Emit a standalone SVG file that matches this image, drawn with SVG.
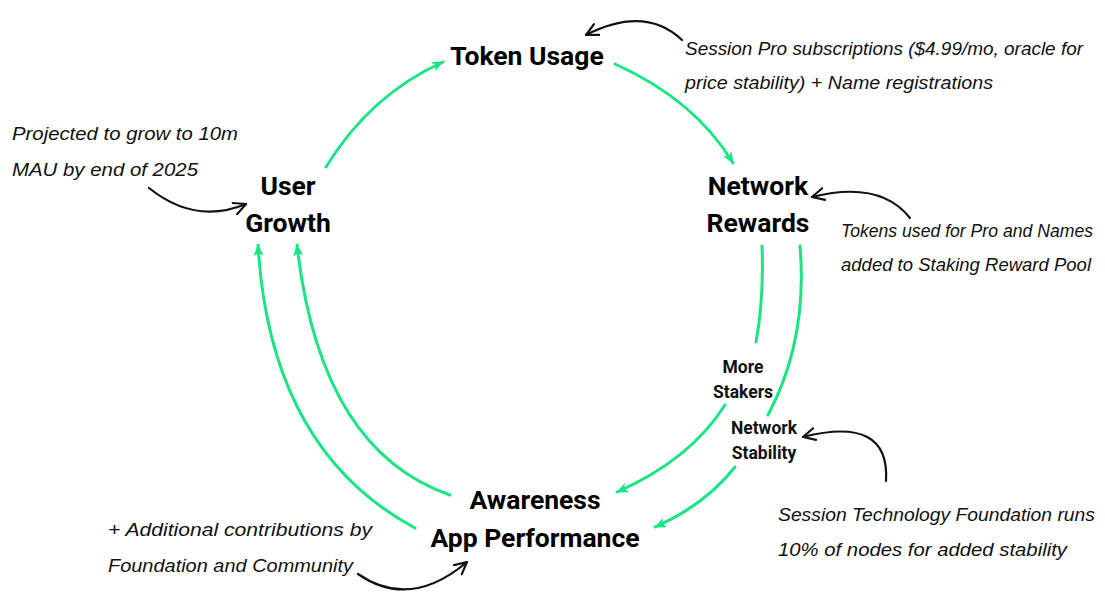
<svg xmlns="http://www.w3.org/2000/svg" width="1105" height="592" viewBox="0 0 1105 592">
<defs>
<style>
.node{font-family:Roboto,"Liberation Sans",sans-serif;font-weight:700;font-size:26.5px;fill:#000;text-anchor:middle}
.lbl{font-family:Roboto,"Liberation Sans",sans-serif;font-weight:700;font-size:17.5px;fill:#111;text-anchor:middle}
.note{font-family:"Liberation Sans",sans-serif;font-style:italic;font-size:19px;fill:#111}
.g{fill:none;stroke:#19e584;stroke-width:3;stroke-linecap:round}
.k{fill:none;stroke:#111;stroke-width:2.2;stroke-linecap:round}
</style>
<marker id="ga" viewBox="0 0 12 10" refX="11" refY="5" markerWidth="12" markerHeight="10" markerUnits="userSpaceOnUse" orient="auto">
<path d="M0,0 L12,5 L0,10 L3,5 Z" fill="#19e584"/>
</marker>
<marker id="ka" viewBox="0 0 14 14" refX="13" refY="7" markerWidth="14" markerHeight="14" markerUnits="userSpaceOnUse" orient="auto">
<path d="M1,1 L13,7 L1,13" fill="none" stroke="#111" stroke-width="2.2" stroke-linecap="round" stroke-linejoin="round"/>
</marker>
</defs>
<rect width="1105" height="592" fill="#fff"/>
<g id="connectors">
<path class="g" d="M326,167 Q370,95 443,62" marker-end="url(#ga)"/>
<path class="g" d="M615,64 Q695,100 733,163" marker-end="url(#ga)"/>
<path class="g" d="M762,246 Q764,300 756,342"/>
<path class="g" d="M725,405 Q690,460 617,492" marker-end="url(#ga)"/>
<path class="g" d="M800,246 Q808,340 768,415"/>
<path class="g" d="M735,467 Q705,505 655,527" marker-end="url(#ga)"/>
<path class="g" d="M450,495 Q320,450 297,245" marker-end="url(#ga)"/>
<path class="g" d="M415,528 Q270,450 258,245" marker-end="url(#ga)"/>
<path class="k" d="M682,40 Q645,5 586,35" marker-end="url(#ka)"/>
<path class="k" d="M149,188 Q195,225 246,204" marker-end="url(#ka)"/>
<path class="k" d="M910,218 Q880,180 812,197" marker-end="url(#ka)"/>
<path class="k" d="M886,481 Q890,415 803,437" marker-end="url(#ka)"/>
<path class="k" d="M358,574 Q410,610 467,562" marker-end="url(#ka)"/>
</g>
<g id="token-usage"><text class="node" x="527" y="65">Token Usage</text></g>
<g id="user-growth"><text class="node" x="288" y="195">User</text><text class="node" x="288" y="232">Growth</text></g>
<g id="network-rewards"><text class="node" x="758" y="195">Network</text><text class="node" x="758" y="232">Rewards</text></g>
<g id="awareness"><text class="node" x="535" y="509">Awareness</text><text class="node" x="535" y="547">App Performance</text></g>
<g id="more-stakers"><text class="lbl" x="743" y="373">More</text><text class="lbl" x="743" y="398">Stakers</text></g>
<g id="network-stability"><text class="lbl" x="764" y="434">Network</text><text class="lbl" x="764" y="459">Stability</text></g>
<g id="notes">
<text class="note" x="685" y="55" textLength="398" lengthAdjust="spacingAndGlyphs">Session Pro subscriptions ($4.99/mo, oracle for</text>
<text class="note" x="685" y="89" textLength="308" lengthAdjust="spacingAndGlyphs">price stability) + Name registrations</text>
<text class="note" x="12" y="140" textLength="226" lengthAdjust="spacingAndGlyphs">Projected to grow to 10m</text>
<text class="note" x="12" y="176" textLength="186" lengthAdjust="spacingAndGlyphs">MAU by end of 2025</text>
<text class="note" x="841" y="237" style="font-size:17.5px" textLength="252" lengthAdjust="spacingAndGlyphs">Tokens used for Pro and Names</text>
<text class="note" x="841" y="271" textLength="250" lengthAdjust="spacingAndGlyphs">added to Staking Reward Pool</text>
<text class="note" x="108" y="536" textLength="264" lengthAdjust="spacingAndGlyphs">+ Additional contributions by</text>
<text class="note" x="108" y="572" textLength="245" lengthAdjust="spacingAndGlyphs">Foundation and Community</text>
<text class="note" x="778" y="521" textLength="317" lengthAdjust="spacingAndGlyphs">Session Technology Foundation runs</text>
<text class="note" x="778" y="556" textLength="289" lengthAdjust="spacingAndGlyphs">10% of nodes for added stability</text>
</g>
</svg>
